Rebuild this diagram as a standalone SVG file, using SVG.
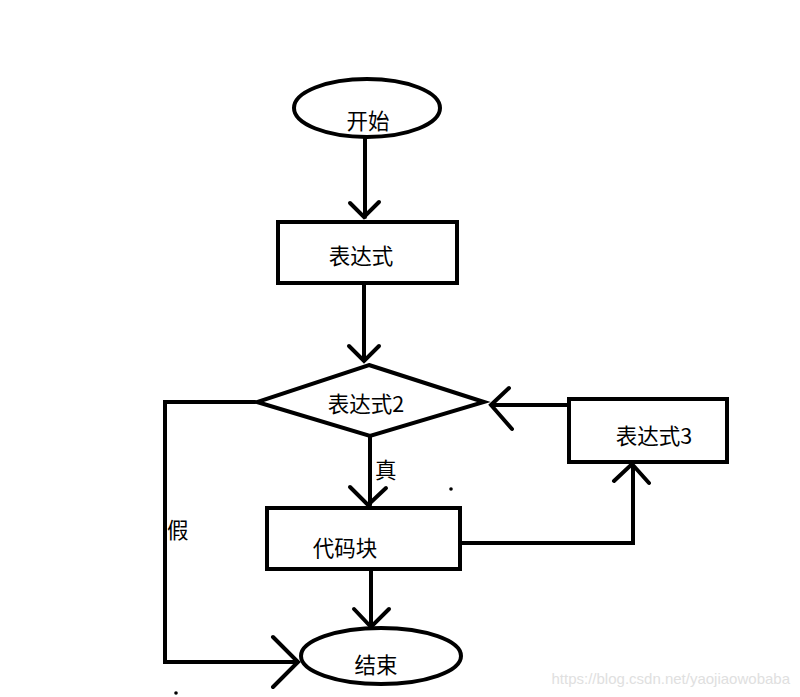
<svg xmlns="http://www.w3.org/2000/svg" width="800" height="697" viewBox="0 0 800 697">
<style>
.s{fill:#fff;stroke:#000;stroke-width:4}
.l{fill:none;stroke:#000;stroke-width:4;stroke-linecap:round;stroke-linejoin:miter}
.t{font-family:"Noto Sans CJK SC","Liberation Sans",sans-serif;font-size:21.5px;fill:#000}
.w{font-family:"Liberation Sans",sans-serif;font-size:15px;fill:#e0e0e0}
</style>
<rect width="800" height="697" fill="#fff"/>
<g id="connectors">
<path class="l" d="M365,137V217M350,203L364,217L379,202"/>
<path class="l" d="M364,284V360M349,346L364,361L379,346"/>
<path class="l" d="M370,437V505M350,487L368,505L386,488"/>
<path class="l" d="M371,570V627M354,609L371,627L389,609"/>
<path class="l" d="M255,402H165V662H298M273,637L298,662L273,687"/>
<path class="l" d="M461,543H633V465M614,481L632,464L649,483"/>
<path class="l" d="M568,405H491M509,388L491,405L512,429"/>
<text class="t" x="375" y="478">真</text>
<text class="t" x="167" y="538">假</text>
</g>
<g id="start"><ellipse class="s" cx="367" cy="108" rx="73" ry="29"/><text class="t" x="368" y="129" text-anchor="middle">开始</text></g>
<g id="expr1"><rect class="s" x="278" y="222" width="179" height="61"/><text class="t" x="361" y="264" text-anchor="middle">表达式</text></g>
<g id="expr2"><polygon class="s" points="369,365 484,402 370,436 257,402"/><text class="t" x="366" y="412" text-anchor="middle">表达式2</text></g>
<g id="code"><rect class="s" x="267" y="508" width="193" height="61"/><text class="t" x="345" y="556" text-anchor="middle">代码块</text></g>
<g id="expr3"><rect class="s" x="569" y="399" width="158" height="63"/><text class="t" x="654" y="444" text-anchor="middle">表达式3</text></g>
<g id="end"><ellipse class="s" cx="381" cy="656" rx="80" ry="28"/><text class="t" x="376" y="673" text-anchor="middle">结束</text></g>
<circle cx="451" cy="489" r="1.8" fill="#000"/>
<circle cx="176" cy="693" r="1.8" fill="#000"/>
<text class="w" x="790" y="684" text-anchor="end">https://blog.csdn.net/yaojiaowobaba</text>
</svg>
